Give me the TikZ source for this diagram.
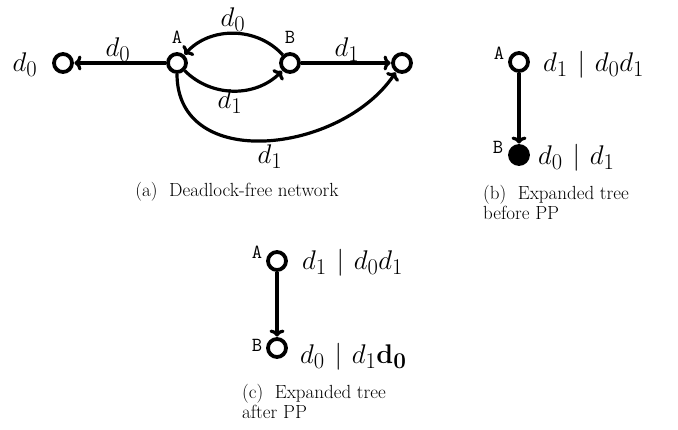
\documentclass[tikz,border=0pt]{standalone}
\usepackage{graphicx}
\usetikzlibrary{arrows.meta}
\newcommand{\mymath}[1]{\scalebox{1.085}{$#1$}}
\newcommand{\mysepbar}{\mathrel{\mkern1.5mu|\mkern1.5mu}}
\begin{document}
\begin{tikzpicture}[x=1pt,y=-1pt,
  st/.style={circle,draw,line width=3.8pt,minimum size=18pt,inner sep=0pt,fill=white},
  stfull/.style={circle,draw,line width=3.8pt,minimum size=18pt,inner sep=0pt,fill=black},
  conn/.style={line width=3.2pt,-{To[length=7pt,width=15pt,line width=3.2pt]},shorten >=0.5pt},
  mlab/.style={font=\fontsize{24.88}{29}\selectfont,inner sep=0pt},
  tlab/.style={font=\fontsize{24.88}{29}\selectfont,inner sep=0pt,anchor=west},
  nlab/.style={font=\ttfamily\fontsize{20}{22}\selectfont,inner sep=0pt},
  captext/.style={font=\fontsize{19}{20.5}\selectfont,inner sep=0pt,align=left}]
\useasboundingbox (0,0) rectangle (678,430);
% (a)
\node[st] (L) at (63,63) {};
\node[st] (A) at (177,63) {};
\node[st] (B) at (290,63) {};
\node[st] (R) at (402,63) {};
\node[mlab] (Ld) at (25,65) {\mymath{d_0}};
\node[nlab] (Al) at (177,37) {A};
\node[nlab] (Bl) at (290,37) {B};
\draw[conn] (A) -- (L);
\draw[conn] (B) to[bend right=48] (A);
\draw[conn] (A) to[bend right=45] (B);
\draw[conn] (B) -- (R);
\draw[conn] (A) to[out=-90,in=-124,looseness=1.15] (R);
\node[mlab] (e1) at (118,50) {\mymath{d_0}};
\node[mlab] (e2) at (233,20) {\mymath{d_0}};
\node[mlab] (e3) at (230,102) {\mymath{d_1}};
\node[mlab] (e4) at (347,50) {\mymath{d_1}};
\node[mlab] (e5) at (270,157) {\mymath{d_1}};
\node[captext,anchor=center] (capa) at (237,192) {(a)\ \ Deadlock-free network};
% (b)
\node[st] (bA) at (519,62) {};
\node[stfull] (bB) at (519,155) {};
\draw[conn] (bA) -- (bB);
\node[nlab] (bAl) at (499,53) {A};
\node[nlab] (bBl) at (498,147) {B};
\node[tlab] (bAt) at (543,65) {\mymath{d_1 \mysepbar d_0d_1}};
\node[tlab] (bBt) at (538,158) {\mymath{d_0 \mysepbar d_1}};
\node[captext,anchor=north west] (capb) at (483,185) {(b)\ \ Expanded tree\\before PP};
% (c)
\node[st] (cA) at (277,261) {};
\node[st] (cB) at (277,348) {};
\draw[conn] (cA) -- (cB);
\node[nlab] (cAl) at (257,252) {A};
\node[nlab] (cBl) at (257,345) {B};
\node[tlab] (cAt) at (302,263) {\mymath{d_1 \mysepbar d_0d_1}};
\node[tlab] (cBt) at (300,357) {\mymath{d_0 \mysepbar d_1\mathbf{d_0}}};
\node[captext,anchor=north west] (capc) at (242,384) {(c)\ \ Expanded tree\\after PP};
\end{tikzpicture}
\end{document}
